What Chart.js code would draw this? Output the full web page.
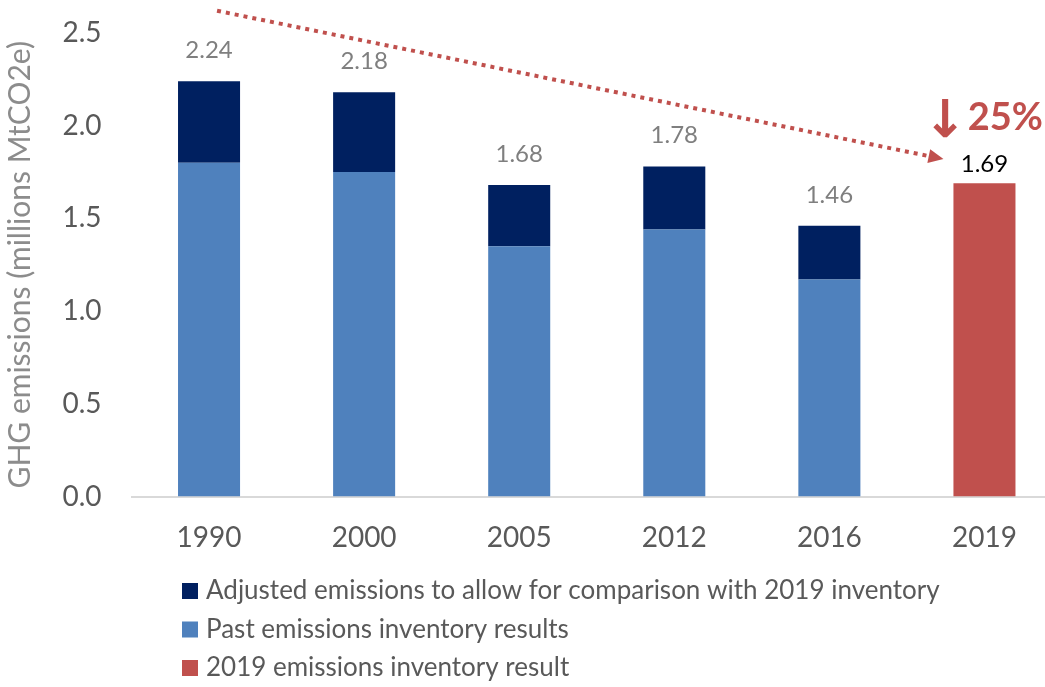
<!DOCTYPE html>
<html>
<head>
<meta charset="utf-8">
<script src="https://cdn.jsdelivr.net/npm/chart.js@4/dist/chart.umd.min.js"></script>
<style>
	html, body { margin: 0; padding: 0; overflow: hidden; background: #fff; }
	#chart_wrap { position: relative; width: 1062px; height: 687px; }
</style>
</head>
<body>
<div id="chart_wrap"><canvas id="ghg_chart"></canvas></div>
<script>
const YEARS = ['1990', '2000', '2005', '2012', '2016', '2019'];
const PAST_RESULTS = [1.80, 1.75, 1.35, 1.44, 1.17, null];
const ADJUSTMENTS = [0.44, 0.43, 0.33, 0.34, 0.29, null];
const RESULT_2019 = [null, null, null, null, null, 1.69];
const Y_TICKS = [0, 0.5, 1.0, 1.5, 2.0, 2.5];
const REDUCTION_TEXT = '25%';

const FONT = 'Lato, "Open Sans", sans-serif';
const NAVY = '#002060';
const BLUE = '#4F81BD';
const RED = '#C0504D';

// totals above each stacked bar, the dotted trend arrow and the legend list
const annotations = {
	id: 'annotations',
	afterDatasetsDraw(chart) {
		const ctx = chart.ctx;
		const x = chart.scales.x;
		const y = chart.scales.y;
		ctx.save();
		ctx.textAlign = 'center';
		ctx.textBaseline = 'middle';
		ctx.font = '24px ' + FONT;
		for (let i = 0; i < YEARS.length; i++) {
			let total = 0;
			chart.data.datasets.forEach(ds => { total += ds.data[i] || 0; });
			let last = (i == YEARS.length - 1);
			ctx.fillStyle = last ? '#000000' : '#7f7f7f';
			ctx.fillText(total.toFixed(2), x.getPixelForValue(i), y.getPixelForValue(total) - (last ? 19 : 31));
		}

		// dotted arrow from the 1990 level down to 2019
		let x0 = x.getPixelForValue(0) + 8, y0 = y.getPixelForValue(2.62);
		let x1 = x.getPixelForValue(5) - 41, y1 = y.getPixelForValue(1.82);
		let ang = Math.atan2(y1 - y0, x1 - x0);
		let head = 15;
		ctx.strokeStyle = RED;
		ctx.fillStyle = RED;
		ctx.lineWidth = 4;
		ctx.setLineDash([4, 5]);
		ctx.beginPath();
		ctx.moveTo(x0, y0);
		ctx.lineTo(x1 - head * Math.cos(ang), y1 - head * Math.sin(ang));
		ctx.stroke();
		ctx.setLineDash([]);
		ctx.beginPath();
		ctx.moveTo(x1, y1);
		ctx.lineTo(x1 - head * Math.cos(ang) + 7 * Math.sin(ang), y1 - head * Math.sin(ang) - 7 * Math.cos(ang));
		ctx.lineTo(x1 - head * Math.cos(ang) - 7 * Math.sin(ang), y1 - head * Math.sin(ang) + 7 * Math.cos(ang));
		ctx.closePath();
		ctx.fill();

		ctx.textAlign = 'right';
		ctx.textBaseline = 'alphabetic';
		ctx.font = 'bold 38px ' + FONT;
		ctx.fillText(REDUCTION_TEXT, 1043, 130);
		let w = ctx.measureText(REDUCTION_TEXT).width;
		ctx.font = 'bold 52px "DejaVu Sans", sans-serif';
		ctx.fillText('\u2193', 1043 - w - 1, 137);

		// legend, one item per row
		let items = [chart.data.datasets[1], chart.data.datasets[0], chart.data.datasets[2]];
		ctx.textAlign = 'left';
		ctx.textBaseline = 'middle';
		ctx.font = '26px ' + FONT;
		items.forEach((ds, k) => {
			let cy = 591 + k * 38.5;
			ctx.fillStyle = ds.backgroundColor;
			ctx.fillRect(182, cy - 8, 16, 16);
			ctx.fillStyle = '#595959';
			ctx.fillText(ds.label, 206, cy);
		});
		ctx.restore();
	}
};

let chart = new Chart(document.getElementById('ghg_chart'), {
	type: 'bar',
	data: {
		labels: YEARS,
		datasets: [{
			label: 'Past emissions inventory results',
			data: PAST_RESULTS,
			backgroundColor: BLUE
		}, {
			label: 'Adjusted emissions to allow for comparison with 2019 inventory',
			data: ADJUSTMENTS,
			backgroundColor: NAVY
		}, {
			label: '2019 emissions inventory result',
			data: RESULT_2019,
			backgroundColor: RED
		}]
	},
	options: {
		responsive: true,
		maintainAspectRatio: false,
		animation: false,
		layout: { padding: { top: 33, left: 0, right: 0, bottom: 0 } },
		datasets: {
			bar: { barPercentage: 0.4, categoryPercentage: 1.0 }
		},
		plugins: {
			legend: { display: false },
			tooltip: { enabled: false }
		},
		scales: {
			x: {
				stacked: true,
				grid: { display: false, drawTicks: false },
				border: { display: true, color: '#d9d9d9', width: 2 },
				ticks: { color: '#595959', font: { family: FONT, size: 28 }, padding: 25 },
				afterFit: s => { s.height = 190.5; }
			},
			y: {
				stacked: true,
				min: 0,
				max: 2.5,
				afterBuildTicks: s => { s.ticks = Y_TICKS.map(v => ({ value: v })); },
				// tick marks stay hidden, their length only spaces the labels off the axis
				grid: { display: false, drawTicks: true, tickLength: 30 },
				border: { display: false },
				ticks: {
					color: '#595959',
					font: { family: FONT, size: 28 },
					padding: 0,
					callback: v => v.toFixed(1)
				},
				title: {
					display: true,
					text: 'GHG emissions (millions MtCO2e)',
					color: '#8c8c8c',
					font: { family: FONT, size: 30 },
					padding: { top: 2, bottom: 0 }
				},
				afterFit: s => { s.width = 131.5; }
			}
		}
	},
	plugins: [annotations]
});
</script>
</body>
</html>
